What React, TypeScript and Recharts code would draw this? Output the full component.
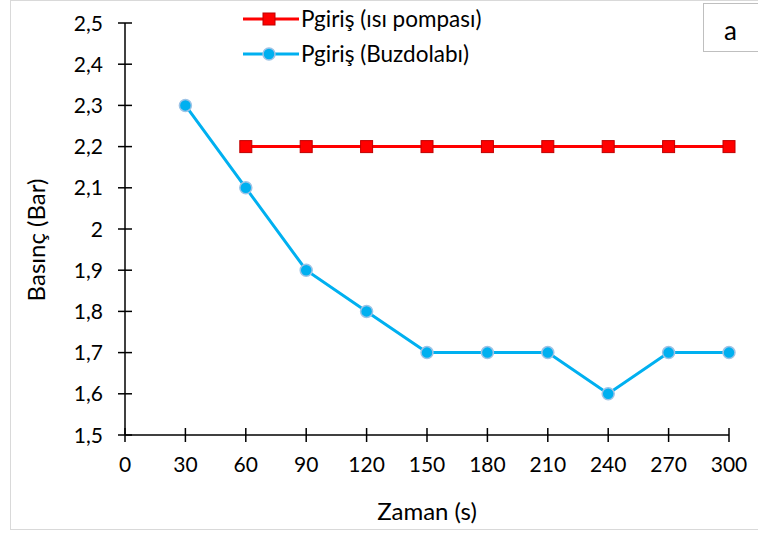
import React from 'react';
import { LineChart, Line, XAxis, YAxis } from 'recharts';

const times = [30, 60, 90, 120, 150, 180, 210, 240, 270, 300];
const heatPump = [null, 2.2, 2.2, 2.2, 2.2, 2.2, 2.2, 2.2, 2.2, 2.2];
const fridge = [2.3, 2.1, 1.9, 1.8, 1.7, 1.7, 1.7, 1.6, 1.7, 1.7];
const xTicks = [0, 30, 60, 90, 120, 150, 180, 210, 240, 270, 300];
const yTicks = [1.5, 1.6, 1.7, 1.8, 1.9, 2, 2.1, 2.2, 2.3, 2.4, 2.5];

const data = times.map((t, i) => ({ t, heatPump: heatPump[i], fridge: fridge[i] }));

const FONT = 'Lato, "Open Sans", sans-serif';
const TICK_SIZE = 7;
const TICK_MARGIN = 15;

const fmt = (v: number) => String(v).replace('.', ',');

const SquareDot = (props: any) => {
  const { cx, cy, key } = props;
  if (cx == null || cy == null) return null;
  return <rect key={key} x={cx - 6} y={cy - 6} width={12} height={12} fill="#FF0000" stroke="#C00000" strokeWidth={1} />;
};

const CircleDot = (props: any) => {
  const { cx, cy, key } = props;
  if (cx == null || cy == null) return null;
  return <circle key={key} cx={cx} cy={cy} r={6} fill="#00B0F0" stroke="#9DC3E6" strokeWidth={1.5} />;
};

const YTick = (props: any) => {
  const { x, y, payload } = props;
  const axisX = x + TICK_MARGIN + TICK_SIZE;
  return (
    <g>
      <line x1={axisX - TICK_SIZE} x2={axisX + TICK_SIZE} y1={y} y2={y} stroke="#000" strokeWidth={1.5} />
      <text x={x} y={y} dy={7.5} textAnchor="end" fill="#000" fontSize={21} fontFamily={FONT}>
        {fmt(payload.value)}
      </text>
    </g>
  );
};

const XTick = (props: any) => {
  const { x, y, payload } = props;
  const axisY = y - TICK_MARGIN - TICK_SIZE;
  return (
    <g>
      <line x1={x} x2={x} y1={axisY - TICK_SIZE} y2={axisY + TICK_SIZE} stroke="#000" strokeWidth={1.5} />
      <text x={x} y={y} dy={15} textAnchor="middle" fill="#000" fontSize={21} fontFamily={FONT}>
        {payload.value}
      </text>
    </g>
  );
};

const ChartLegend = () => (
  <div style={{ position: 'absolute', left: 243, top: 1, fontFamily: FONT, fontSize: 22.5, color: '#000' }}>
    <div style={{ display: 'flex', alignItems: 'center', height: 35 }}>
      <svg width={56} height={14}>
        <line x1={0} x2={56} y1={7} y2={7} stroke="#FF0000" strokeWidth={3} />
        <rect x={20} y={1} width={12} height={12} fill="#FF0000" stroke="#C00000" />
      </svg>
      <span style={{ marginLeft: 2 }}>Pgiriş (ısı pompası)</span>
    </div>
    <div style={{ display: 'flex', alignItems: 'center', height: 35 }}>
      <svg width={56} height={14}>
        <line x1={0} x2={56} y1={7} y2={7} stroke="#00B0F0" strokeWidth={3} />
        <circle cx={26} cy={7} r={6} fill="#00B0F0" stroke="#9DC3E6" strokeWidth={1.5} />
      </svg>
      <span style={{ marginLeft: 2 }}>Pgiriş (Buzdolabı)</span>
    </div>
  </div>
);

const YLabel = (props: any) => {
  const { viewBox } = props;
  const cx = 35;
  const cy = viewBox.y + viewBox.height / 2 + 11;
  return (
    <text x={cx} y={cy} transform={`rotate(-90 ${cx} ${cy})`} textAnchor="middle" dominantBaseline="central" fontSize={24} fontFamily={FONT} fill="#000">
      Basınç (Bar)
    </text>
  );
};

const XLabel = (props: any) => {
  const { viewBox } = props;
  const cx = viewBox.x + viewBox.width / 2;
  return (
    <text x={cx} y={510} textAnchor="middle" dominantBaseline="central" fontSize={24} fontFamily={FONT} fill="#000">
      Zaman (s)
    </text>
  );
};

export default function App() {
  return (
    <div style={{ position: 'absolute', left: 0, top: 0, width: 758, height: 533, background: '#fff', overflow: 'hidden' }}>
      <div style={{ position: 'absolute', left: 10, top: 0, width: 770, height: 528, border: '1px solid #D9D9D9' }} />
      <LineChart width={758} height={533} data={data} margin={{ top: 23, right: 29, bottom: 0, left: 0 }}>
        <XAxis
          dataKey="t"
          type="number"
          domain={[0, 300]}
          ticks={xTicks}
          interval={0}
          height={98}
          stroke="#000"
          strokeWidth={1.5}
          tickLine={false}
          tickSize={TICK_SIZE}
          tickMargin={TICK_MARGIN}
          tick={<XTick />}
          label={<XLabel />}
        />
        <YAxis
          type="number"
          domain={[1.5, 2.5]}
          ticks={yTicks}
          interval={0}
          width={125}
          stroke="#000"
          strokeWidth={1.5}
          tickLine={false}
          tickSize={TICK_SIZE}
          tickMargin={TICK_MARGIN}
          tick={<YTick />}
          label={<YLabel />}
        />
        <Line
          dataKey="heatPump"
          stroke="#FF0000"
          strokeWidth={3}
          dot={<SquareDot />}
          activeDot={false}
          connectNulls={false}
          isAnimationActive={false}
        />
        <Line
          dataKey="fridge"
          stroke="#00B0F0"
          strokeWidth={3}
          dot={<CircleDot />}
          activeDot={false}
          isAnimationActive={false}
        />
      </LineChart>
      <ChartLegend />
      <div style={{ position: 'absolute', left: 703, top: 3, width: 70, height: 49, border: '1px solid #BFBFBF', background: '#fff', fontFamily: FONT, fontSize: 26, lineHeight: '52px', paddingLeft: 20, boxSizing: 'border-box' }}>
        a
      </div>
    </div>
  );
}
